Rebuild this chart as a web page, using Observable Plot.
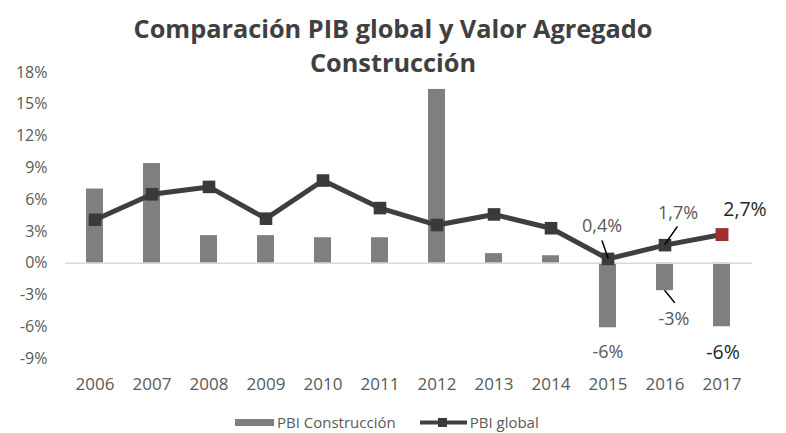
<!DOCTYPE html>
<html>
<head>
<meta charset="utf-8">
<script src="https://cdn.jsdelivr.net/npm/d3@7"></script>
<script src="https://cdn.jsdelivr.net/npm/@observablehq/plot@0.6"></script>
<style>
  html, body { margin: 0; padding: 0; background: #fff; }
  #wrap { position: relative; width: 786px; height: 433px; overflow: hidden; font-family: "Open Sans", sans-serif; }
  #title { position: absolute; left: 0; top: 11px; width: 786px; text-align: center; font-weight: 700; font-size: 25.3px; line-height: 34px; color: #404040; }
  #chart { position: absolute; left: 0; top: 0; }
  #legend { position: absolute; left: 235px; top: 412px; height: 20px; line-height: 20px; display: flex; align-items: center; font-size: 15px; color: #595959; }
  #legend .item { display: flex; align-items: center; height: 20px; }
  #legend svg { display: block; margin-right: 3px; }
</style>
</head>
<body>
<div id="wrap">
  <div id="chart"></div>
  <div id="title">Comparación PIB global y Valor Agregado<br>Construcción</div>
  <div id="legend">
    <div class="item" style="margin-right:24px"><svg width="39" height="7"><rect x="0" y="0" width="39" height="7" fill="#7f7f7f"></rect></svg><span>PBI Construcción</span></div>
    <div class="item"><svg width="47" height="11"><line x1="0" y1="5.5" x2="47" y2="5.5" stroke="#404040" stroke-width="4"></line><rect x="18" y="1" width="9" height="9" fill="#3a3a3a"></rect></svg><span>PBI global</span></div>
  </div>
</div>
<script>
const years = [2006, 2007, 2008, 2009, 2010, 2011, 2012, 2013, 2014, 2015, 2016, 2017];
const pbiConstruccion = [7.0, 9.4, 2.6, 2.6, 2.4, 2.4, 16.4, 0.9, 0.7, -6.1, -2.6, -6.0];
const pbiGlobal = [4.1, 6.5, 7.2, 4.2, 7.8, 5.2, 3.6, 4.6, 3.3, 0.4, 1.7, 2.7];
const yTicks = [-9, -6, -3, 0, 3, 6, 9, 12, 15, 18];

const data = years.map((year, i) => ({year, construccion: pbiConstruccion[i], global: pbiGlobal[i]}));
const fmtLine = v => v.toFixed(1).replace(".", ",") + "%";
const fmtBar = v => Math.round(v) + "%";
const byYear = y => data.filter(d => d.year === y);

const lineColor = "#3f3f3f";
const labelGray = "#595959";
const labelDark = "#262626";
const leaderShape = {draw(context, l) { context.moveTo(0, 0); context.lineTo(0, -l); }};

function lineLabel(year, dx, dy, size, color) {
  return Plot.text(byYear(year), {x: "year", y: "global", text: d => fmtLine(d.global), dx, dy, fontSize: size, fill: color});
}
function barLabel(year, dx, dy, size, color) {
  return Plot.text(byYear(year), {x: "year", y: "construccion", text: d => fmtBar(d.construccion), dx, dy, fontSize: size, fill: color});
}

const chart = Plot.plot({
  width: 786,
  height: 433,
  marginLeft: 65,
  marginRight: 34,
  marginTop: 72,
  marginBottom: 75,
  style: {fontFamily: "'Open Sans', sans-serif", fontSize: "16px", color: labelGray, background: "transparent", overflow: "visible"},
  x: {type: "band", domain: years, paddingInner: 0.7, paddingOuter: 0.35, align: 0.5, tickSize: 0, tickPadding: 19, tickFormat: d => String(d), label: null},
  y: {domain: [-9, 18], ticks: yTicks, tickFormat: d => d + "%", tickSize: 0, tickPadding: 18, label: null},
  marks: [
    Plot.barY(data, {x: "year", y: "construccion", fill: "#7f7f7f"}),
    Plot.ruleY([0], {stroke: "#d9d9d9", strokeWidth: 1.5}),
    Plot.lineY(data, {x: "year", y: "global", stroke: lineColor, strokeWidth: 5}),
    Plot.dot(data.filter(d => d.year !== 2017), {x: "year", y: "global", symbol: "square", r: 7.1, fill: "#3a3a3a"}),
    Plot.dot(byYear(2017), {x: "year", y: "global", symbol: "square", r: 7.3, fill: "#a0302f"}),
    Plot.vector(byYear(2015), {x: "year", y: "global", length: 18, rotate: -19, anchor: "start", shape: leaderShape, stroke: "#000", strokeWidth: 1.5, dy: -1}),
    Plot.vector(byYear(2016), {x: "year", y: "global", length: 21, rotate: 35, anchor: "start", shape: leaderShape, stroke: "#000", strokeWidth: 1.5, dy: -1}),
    Plot.vector(byYear(2016), {x: "year", y: "construccion", length: 15, rotate: 141, anchor: "start", shape: leaderShape, stroke: "#000", strokeWidth: 1.5, dy: 0}),
    lineLabel(2015, -6, -33, 18, labelGray),
    lineLabel(2016, 13, -32, 18, labelGray),
    lineLabel(2017, 23, -25, 19.5, labelDark),
    barLabel(2015, 0, 24, 18, labelGray),
    barLabel(2016, 9, 29, 18, labelGray),
    barLabel(2017, 1, 26, 19.5, labelDark)
  ]
});
chart.querySelectorAll('[aria-label="x-axis tick label"], [aria-label="x-axis"]').forEach(g => g.setAttribute("font-size", "17"));
document.getElementById("chart").appendChild(chart);
</script>
</body>
</html>
